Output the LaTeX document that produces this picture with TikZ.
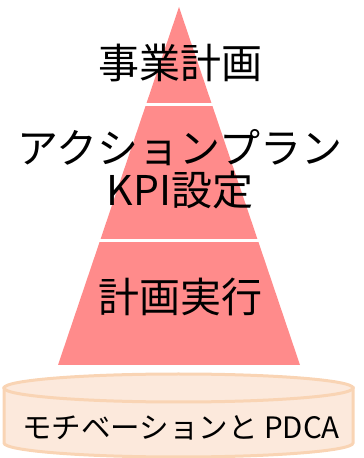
\documentclass[tikz,border=0pt]{standalone}
\usepackage{fontspec}
\setmainfont{Noto Sans CJK JP}
\usetikzlibrary{calc}
\definecolor{pyrred}{HTML}{FF8B8B}
\definecolor{cylfill}{HTML}{FCE9DC}
\definecolor{cylline}{HTML}{F9D4B4}
\tikzset{
  bigtxt/.style={font=\fontsize{41}{45}\selectfont, inner sep=0pt},
  basetxt/.style={font=\fontsize{29.5}{33}\selectfont, inner sep=0pt},
  cyl/.style={fill=cylfill, draw=cylline, line width=3pt},
  cut/.style={draw=white, line width=3pt}
}

\begin{document}
\begin{tikzpicture}[x=1pt,y=1pt]
\useasboundingbox (0,0) rectangle (364,458);
% pyramid
\coordinate (top) at (179,451);
\coordinate (bl) at (58,93);
\coordinate (br) at (300,93);
\fill[pyrred] (top) -- (bl) -- (br) -- cycle;
\draw[cut] (0,353) -- (364,353);
\draw[cut] (0,217) -- (364,217);
% base cylinder
\path[cyl] (4,70) -- (4,15) arc[start angle=180,end angle=360,x radius=174.5,y radius=14] -- (353,70) -- cycle;
\draw[cyl] (178.5,70) ellipse[x radius=174.5,y radius=14];
% labels
\node[bigtxt] (plan) at (180,395) {事業計画};
\node[bigtxt] (act) at (180,310) {アクションプラン};
\node[bigtxt] (kpi) at (180,268) {KPI設定};
\node[bigtxt] (run) at (180,161) {計画実行};
\node[basetxt] (base) at (181,30) {モチベーションと PDCA};
\end{tikzpicture}
\end{document}
